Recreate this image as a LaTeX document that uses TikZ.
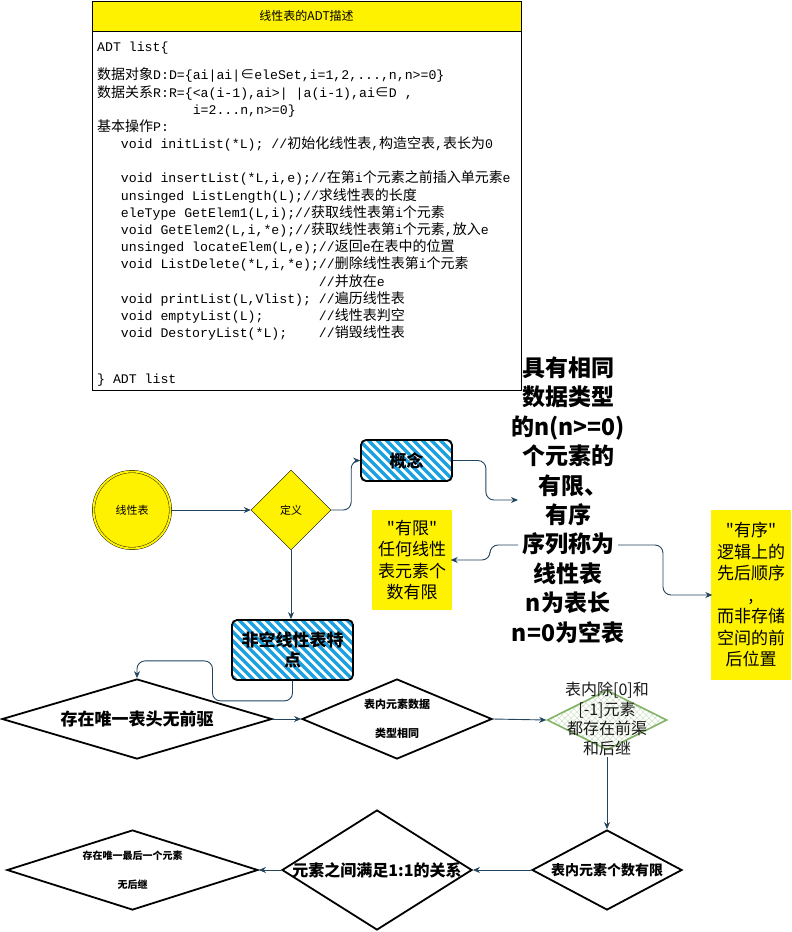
\documentclass[tikz,border=0pt]{standalone}
\usepackage{fontspec}
\setmainfont{Noto Sans CJK SC}[Ligatures=TeXOff]
\setmonofont{Liberation Mono}
\newfontfamily\zhc[Scale=1.06]{Noto Sans CJK SC}
\usepackage{xcolor}
\usepackage{tikz}
\usetikzlibrary{shapes.geometric,arrows.meta,positioning,calc}

\definecolor{linkc}{HTML}{23445D}
\definecolor{hatchblue}{HTML}{1BA1E2}
\definecolor{keepgreen}{HTML}{82B366}
\newcommand{\z}[1]{{\zhc #1}}

\begin{document}
\begin{tikzpicture}[x=1pt, y=-1pt,
  conn/.style  = {draw=linkc, line width=0.9pt, rounded corners=8pt,
                  -{Stealth[length=7pt,width=6pt]}},
  head/.style  = {rectangle, draw, fill=yellow, minimum width=429pt,
                  minimum height=30pt, font=\fontsize{12}{14}\selectfont},
  body/.style  = {rectangle, draw, fill=white, minimum width=429pt,
                  minimum height=359pt},
  code/.style  = {inner sep=0pt, align=left,
                  font=\ttfamily\fontsize{13.2}{17.2}\selectfont},
  yelbox/.style= {rectangle, draw, fill=yellow, double=yellow,
                  double distance=2.2pt, inner sep=0pt, align=center,
                  font=\fontsize{17}{21.5}\selectfont},
  hatch/.style = {rectangle, draw, line width=1.8pt, rounded corners=5pt,
                  align=center, font=\bfseries\fontsize{17}{20}\selectfont,
                  path picture={
                    \foreach \k in {0,...,32}
                      \draw[hatchblue, line width=3.4pt]
                        ($(path picture bounding box.north west)+(\k*9pt-150pt,4pt)$)
                        -- ++(170pt,-170pt);}},
  dia/.style   = {diamond, draw, line width=1.8pt, inner sep=0pt},
  dlabel/.style= {align=center, font=\bfseries\fontsize{#1}{14.5}\selectfont},
  xhatch/.style= {diamond, draw=keepgreen, line width=1.6pt, inner sep=0pt,
                  path picture={
                    \foreach \k in {0,...,40}{
                      \draw[keepgreen!35, line width=0.5pt]
                        ($(path picture bounding box.north west)+(\k*6pt-120pt,2pt)$)
                        -- ++(130pt,-130pt);
                      \draw[keepgreen!35, line width=0.5pt]
                        ($(path picture bounding box.north east)+(-\k*6pt+120pt,2pt)$)
                        -- ++(-130pt,-130pt);}}}
]
\useasboundingbox (0,0) rectangle (792,932);

% --- ADT description ---
\node[head] (adthead) at (306.5,16) {线性表的ADT描述};
\node[body, below=0pt of adthead] (adtbody) {};
\node[code, anchor=north west] (adtcode) at (97,42) {%
ADT list\{\\[11pt]
\z{数据对象}D:D=\{ai|ai|\z{∈}eleSet,i=1,2,...,n,n>=0\}\\
\z{数据关系}R:R=\{<a(i-1),ai>| |a(i-1),ai\z{∈}D ,\\
\phantom{\z{数据关系}R:R=\{}i=2...n,n>=0\}\\
\z{基本操作}P:\\
\phantom{xxx}void initList(*L); //\z{初始化线性表},\z{构造空表},\z{表长为}0\\[17pt]
\phantom{xxx}void insertList(*L,i,e);//\z{在第}i\z{个元素之前插入单元素}e\\
\phantom{xxx}unsinged ListLength(L);//\z{求线性表的长度}\\
\phantom{xxx}eleType GetElem1(L,i);//\z{获取线性表第}i\z{个元素}\\
\phantom{xxx}void GetElem2(L,i,*e);//\z{获取线性表第}i\z{个元素},\z{放入}e\\
\phantom{xxx}unsinged locateElem(L,e);//\z{返回}e\z{在表中的位置}\\
\phantom{xxx}void ListDelete(*L,i,*e);//\z{删除线性表第}i\z{个元素}\\
\phantom{xxxvoid ListDelete(*L,i,*e);}//\z{并放在}e\\
\phantom{xxx}void printList(L,Vlist); //\z{遍历线性表}\\
\phantom{xxx}void emptyList(L);\phantom{xxxxxxx}//\z{线性表判空}\\
\phantom{xxx}void DestoryList(*L);\phantom{xxxx}//\z{销毁线性表}\\[29pt]
\} ADT list};

% --- definition ---
\node[circle, draw, fill=yellow, double=yellow, double distance=2pt,
      minimum size=77pt, font=\fontsize{11}{13}\selectfont] (linear) at (132,510) {线性表};
\node[diamond, draw, fill=yellow, minimum width=80pt, minimum height=80pt,
      inner sep=0pt, font=\fontsize{11}{13}\selectfont] (dingyi) at (291,510) {定义};
\node[hatch, minimum width=91pt, minimum height=41pt] (gainian) at (406.5,460.5) {概念};
\node[align=center, inner sep=0pt, font=\bfseries\fontsize{23}{29.4}\selectfont]
     (concept) at (568,500)
     {具有相同\\数据类型\\的n(n>=0)\\个元素的\\\hspace*{10pt}有限、\\有序\\序列称为\\线性表\\n为表长\\n=0为空表};
\coordinate (cin)   at ($(concept.center)+(-50,0)$);
\coordinate (cleft) at ($(concept.center)+(-50,45)$);
\coordinate (cright) at ($(concept.center)+(50,45)$);
\node[yelbox, minimum width=77pt, minimum height=97pt] (youxian) at (412,560)
     {"有限"\\任何线性\\表元素个\\数有限};
\node[yelbox, minimum width=77pt, minimum height=167pt] (youxu) at (751,595)
     {"有序"\\逻辑上的\\先后顺序\\,\\而非存储\\空间的前\\后位置};

% --- features of a non-empty list ---
\node[hatch, minimum width=121pt, minimum height=60pt] (feikong) at (292.5,650)
     {非空线性表特\\点};
\node[dia, minimum width=270pt, minimum height=80pt,
      label={[dlabel=17]center:存在唯一表头无前驱}] (first) at (137,719) {};
\node[dia, minimum width=190pt, minimum height=80pt,
      label={[dlabel=11]center:表内元素数据\\[14.5pt]类型相同}] (sametype) at (397,719) {};
\node[xhatch, minimum width=120pt, minimum height=60pt] (keep) at (607,720) {};
\node[align=center, text=black!90, font=\fontsize{16}{19.5}\selectfont] (keeptext) at (607,719)
     {表内除[0]和\\{}[-1]元素\\都存在前渠\\和后继};
\node[dia, minimum width=150pt, minimum height=80pt,
      label={[dlabel=14]center:表内元素个数有限}] (count) at (607,870) {};
\node[dia, minimum width=190pt, minimum height=120pt,
      label={[dlabel=16]center:元素之间满足1:1的关系}] (relation) at (377,870) {};
\node[dia, minimum width=251pt, minimum height=80pt,
      label={[dlabel=10]center:存在唯一最后一个元素\\[14pt]无后继}] (tail) at (132.5,870) {};

% --- connectors ---
\draw[conn] (linear) -- (dingyi);
\draw[conn] (dingyi.east) -- ++(20,0) |- (gainian.west);
\draw[conn] (gainian.east) -- ++(33,0) |- (cin);
\draw[conn] (cleft) -- ++(-28,0) |- (youxian.east);
\draw[conn] (cright) -- ++(45,0) |- (youxu.west);
\draw[conn] (dingyi.south) -- (dingyi.south |- feikong.north);
\draw[conn] (feikong.south) -- ++(0,20) -- ++(-80,0) -- ++(0,-40) -| (first.north);
\draw[conn] (first.east) -- (sametype.west);
\draw[conn] (sametype.east) -- (keep.west);
\draw[conn] (keep.south) ++(0,6) -- (count.north);
\draw[conn] (count.west) -- (relation.east);
\draw[conn] (relation.west) -- (tail.east);

\end{tikzpicture}
\end{document}
